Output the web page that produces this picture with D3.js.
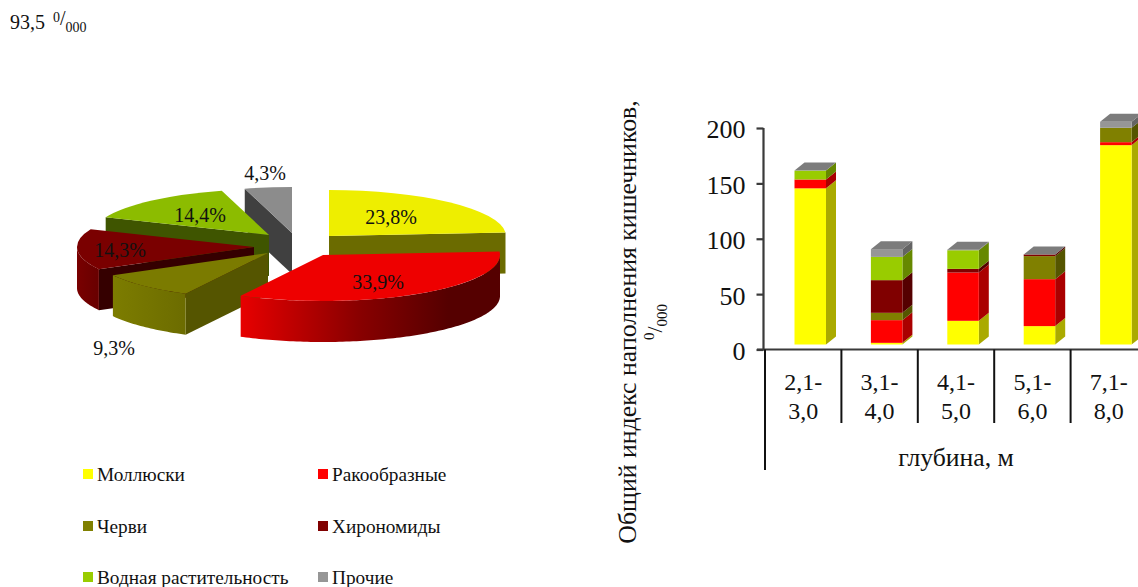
<!DOCTYPE html>
<html lang="ru">
<head>
<meta charset="utf-8">
<title>Индекс наполнения кишечников</title>
<script src="https://cdn.jsdelivr.net/npm/d3@7"></script>
<style>
  html, body { margin: 0; padding: 0; background: #fff; }
  svg { display: block; }
  text { font-family: "Liberation Serif", "Times New Roman", serif; fill: #111; }
</style>
</head>
<body>
<svg id="chart" width="1138" height="587"></svg>
<script>
// Food groups shared by both charts
const groups = ["Моллюски", "Ракообразные", "Черви", "Хирономиды", "Водная растительность", "Прочие"];

// Pie: share of each group, percent
const pieShares = [23.8, 33.9, 9.3, 14.3, 14.4, 4.3];
const pieLabels = ["23,8%", "33,9%", "9,3%", "14,3%", "14,4%", "4,3%"];

// Stacked bars: fullness index by depth
const depthTop = ["2,1-", "3,1-", "4,1-", "5,1-", "7,1-"];
const depthBottom = ["3,0", "4,0", "5,0", "6,0", "8,0"];
const molluscs = [141, 1.5, 21.4, 16.6, 180];
const crustaceans = [8, 20.5, 43.6, 42.4, 2.7];
const worms = [0, 6.6, 0, 20.8, 13];
const chironomids = [0, 29.5, 3.3, 1.5, 0];
const waterPlants = [8, 21, 16.8, 0, 0];
const others = [0, 7, 0.5, 0, 5.4];
const yTicks = [0, 50, 100, 150, 200];

// Palettes
const barFront = ["#ffff00", "#ff0000", "#808000", "#800000", "#99cc00", "#969696"];
const barSide = ["#aaaa00", "#aa0000", "#555500", "#550000", "#668800", "#646464"];
const pieTop = ["#eeee00", "#ee0000", "#7b7b00", "#7a0000", "#8cbc00", "#8c8c8c"];
const pieCut = ["#6b6b00", "#5a0000", "#555500", "#350000", "#3f5500", "#404040"];
const pieWall = ["#6b6b00", "url(#redWall)", "url(#oliveWall)", "url(#maroonWall)", "#3f5500", "#404040"];

const svg = d3.select("#chart");
const defs = svg.append("defs");

// Wall gradients run in the local coordinates of each slice
function hGradient(id, x1, x2, stops) {
  const g = defs.append("linearGradient").attr("id", id)
    .attr("gradientUnits", "userSpaceOnUse")
    .attr("x1", x1).attr("x2", x2).attr("y1", 0).attr("y2", 0);
  stops.forEach(([o, c]) => g.append("stop").attr("offset", o).attr("stop-color", c));
}
hGradient("redWall", -83, 177, [[0, "#e80000"], [0.45, "#8a0000"], [0.8, "#550000"], [1, "#550000"]]);
hGradient("oliveWall", -158, -82, [[0, "#7d7d00"], [1, "#6c6c00"]]);
hGradient("maroonWall", -178, -140, [[0, "#7a0000"], [1, "#5c0000"]]);

/* ---------- Header ---------- */
const header = svg.append("text").attr("x", 10).attr("y", 28.5).style("font-size", "20px");
header.append("tspan").text("93,5 ");
header.append("tspan").attr("dx", 3).attr("dy", -7).style("font-size", "14px").text("0");
header.append("tspan").style("font-size", "20px").attr("dy", 3).text("/");
header.append("tspan").attr("dy", 7.5).style("font-size", "14px").text("000");

/* ---------- Exploded 3D pie ---------- */
const rx = 177, ry = 46, wallHeight = 41;
// Each slice is pulled away from the centre to its own apex
const apexX = [329, 323, 268, 254, 269, 292];
const apexY = [236, 255, 253, 247, 235, 233];

const pie = d3.pie().sort(null).value(d => d);
const arcs = pie(pieShares);
const arc = d3.arc().innerRadius(0).outerRadius(rx);
const project = a => [Math.sin(a) * rx, -Math.cos(a) * ry];
const drawOrder = [5, 4, 3, 2, 0, 1];
const pieG = svg.append("g");

drawOrder.forEach(i => {
  const d = arcs[i];
  const g = pieG.append("g").attr("transform", `translate(${apexX[i]},${apexY[i]})`);

  // Radial cut faces that turn towards the viewer
  [[d.startAngle, Math.sin(d.startAngle) < 0], [d.endAngle, Math.sin(d.endAngle) > 0]]
    .filter(c => c[1])
    .forEach(([a]) => {
      const [px, py] = project(a);
      g.append("path")
        .attr("d", d3.line()([[0, 0], [px, py], [px, py + wallHeight], [0, wallHeight]]) + "Z")
        .attr("fill", pieCut[i]);
    });

  // Outer wall, only the near half of the rim is seen
  const from = Math.max(d.startAngle, Math.PI / 2);
  const to = Math.min(d.endAngle, 3 * Math.PI / 2);
  if (to > from) {
    const angles = d3.range(from, to, 0.02).concat([to]);
    const upper = angles.map(project);
    const lower = upper.slice().reverse().map(([px, py]) => [px, py + wallHeight]);
    g.append("path")
      .attr("d", d3.line()(upper.concat(lower)) + "Z")
      .attr("fill", pieWall[i]);
  }

  // Top face: the flat arc squashed into an ellipse
  g.append("path")
    .attr("d", arc(d))
    .attr("transform", `scale(1,${ry / rx})`)
    .attr("fill", pieTop[i]);
});

const pieLabelX = [391, 378, 114, 120, 200, 265];
const pieLabelY = [224, 289, 355, 257, 222, 180];
svg.append("g").selectAll("text").data(pieLabels).join("text")
  .attr("x", (d, i) => pieLabelX[i])
  .attr("y", (d, i) => pieLabelY[i])
  .attr("text-anchor", "middle")
  .style("font-size", "20px")
  .text(d => d);

/* ---------- Legend ---------- */
const legendX = [83, 318], legendY = [469, 521, 572];
const legend = svg.append("g").selectAll("g").data(groups).join("g")
  .attr("transform", (d, i) => `translate(${legendX[i % 2]},${legendY[Math.floor(i / 2)]})`);
legend.append("rect").attr("width", 10).attr("height", 10).attr("fill", (d, i) => barFront[i]);
legend.append("text").attr("x", 14).attr("y", 12).style("font-size", "19.3px").text(d => d);

/* ---------- Stacked 3D columns ---------- */
const y = d3.scaleLinear().domain([0, 200]).range([349.5, 128]);
const x = d3.scaleBand().domain(depthTop).range([765, 1147]).padding(0);

const rows = depthTop.map((key, i) => ({
  key,
  s0: molluscs[i], s1: crustaceans[i], s2: worms[i],
  s3: chironomids[i], s4: waterPlants[i], s5: others[i]
}));
const stack = d3.stack().keys(["s0", "s1", "s2", "s3", "s4", "s5"])(rows);

const barInset = 29.5, barWidth = 31.5, depthX = 10, depthY = 8, floorLift = 5;
const barsG = svg.append("g");

rows.forEach((row, r) => {
  const x0 = x(row.key) + barInset, x1 = x0 + barWidth;
  const g = barsG.append("g");
  stack.forEach((layer, s) => {
    const [lo, hi] = layer[r];
    if (hi <= lo) return;
    const yLo = y(lo) - floorLift, yHi = y(hi) - floorLift;
    g.append("path")
      .attr("d", d3.line()([[x1, yLo], [x1 + depthX, yLo - depthY], [x1 + depthX, yHi - depthY], [x1, yHi]]) + "Z")
      .attr("fill", barSide[s]);
    g.append("rect")
      .attr("x", x0).attr("y", yHi)
      .attr("width", barWidth).attr("height", yLo - yHi)
      .attr("fill", barFront[s]);
  });
  // Cap on the top of the column
  const total = stack[stack.length - 1][r][1];
  const yT = y(total) - floorLift;
  g.append("path")
    .attr("d", d3.line()([[x0, yT], [x0 + depthX, yT - depthY], [x1 + depthX, yT - depthY], [x1, yT]]) + "Z")
    .attr("fill", "#7c7c7c");
});

/* ---------- Axes ---------- */
const axisColor = "#3a3a3a";
const yAxis = svg.append("g").attr("transform", "translate(763.5,0)")
  .call(d3.axisLeft(y).tickValues(yTicks).tickSize(7).tickPadding(11).tickFormat(d3.format("d")));
yAxis.selectAll("path,line").attr("stroke", axisColor).attr("stroke-width", 2.2);
yAxis.select(".domain").attr("d", `M0,${y(200)}V${y(0)}`);
yAxis.selectAll("text").style("font-size", "26px").attr("fill", "#111").attr("dy", "0.38em")
  .style("font-family", '"Liberation Serif", serif');

const xG = svg.append("g");
xG.append("line").attr("x1", 757).attr("x2", 1138).attr("y1", y(0)).attr("y2", y(0))
  .attr("stroke", axisColor).attr("stroke-width", 2.2);
xG.append("line").attr("x1", 765).attr("x2", 765).attr("y1", y(0)).attr("y2", 470)
  .attr("stroke", "#111").attr("stroke-width", 2);
xG.selectAll(".sep").data(depthTop.slice(1)).join("line").attr("class", "sep")
  .attr("x1", d => x(d)).attr("x2", d => x(d))
  .attr("y1", y(0)).attr("y2", 423)
  .attr("stroke", "#111").attr("stroke-width", 2);
xG.selectAll(".lab1").data(depthTop).join("text").attr("class", "lab1")
  .attr("x", d => x(d) + x.bandwidth() / 2).attr("y", 390)
  .attr("text-anchor", "middle").style("font-size", "24px").text(d => d);
xG.selectAll(".lab2").data(depthBottom).join("text").attr("class", "lab2")
  .attr("x", (d, i) => x(depthTop[i]) + x.bandwidth() / 2).attr("y", 418.5)
  .attr("text-anchor", "middle").style("font-size", "24px").text(d => d);
xG.append("text").attr("x", 956).attr("y", 466).attr("text-anchor", "middle")
  .style("font-size", "25.7px").text("глубина, м");

/* ---------- Rotated value-axis title ---------- */
const title = svg.append("g").attr("transform", "translate(636,322) rotate(-90)");
title.append("text").attr("text-anchor", "middle").style("font-size", "25.8px")
  .text("Общий индекс наполнения кишечников,");
const unit = title.append("text").attr("y", 27).attr("text-anchor", "middle").style("font-size", "22px");
unit.append("tspan").attr("dy", -9).style("font-size", "15px").text("0");
unit.append("tspan").attr("dy", 8).text("/");
unit.append("tspan").attr("dy", 5).style("font-size", "15px").text("000");
</script>
</body>
</html>
